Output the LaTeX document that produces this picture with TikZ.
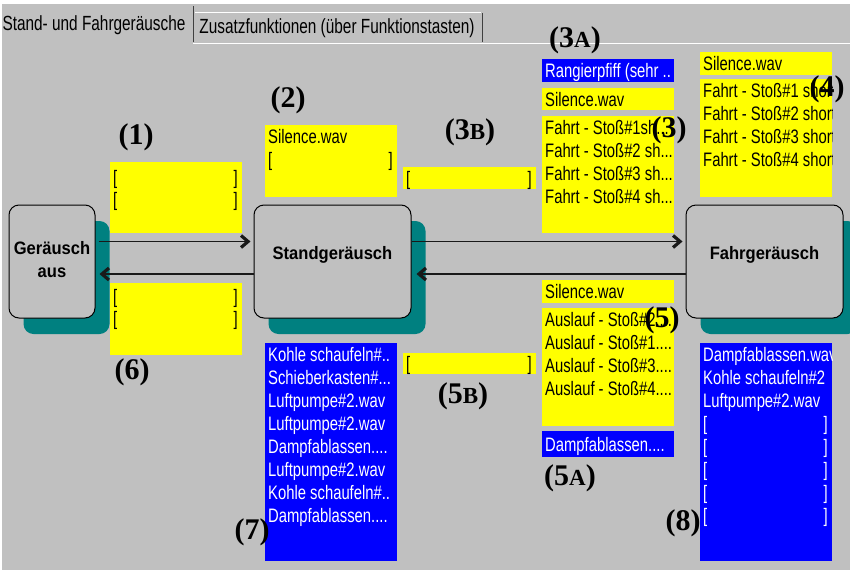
\documentclass[tikz,border=0pt]{standalone}
\usepackage{fontspec}
\newfontfamily\listfont{Liberation Sans}[FakeStretch=0.76]
\newfontfamily\tabfont{Liberation Sans}[FakeStretch=0.75]
\newfontfamily\btnfont{Liberation Sans}[FakeStretch=0.92]
\newfontfamily\numfont{Liberation Serif}
\usetikzlibrary{arrows.meta}
\definecolor{panelgray}{HTML}{C0C0C0}
\definecolor{shadowteal}{HTML}{008080}
\definecolor{listyellow}{HTML}{FFFF00}
\definecolor{listblue}{HTML}{0000FF}
\definecolor{edgedark}{HTML}{404040}
\newcommand\smallcap[1]{{\fontsize{23}{23}\selectfont #1}}

\tikzset{
  stateBox/.style={draw=black, line width=1pt, fill=panelgray, rounded corners=10pt,
    minimum height=113pt, inner sep=0pt},
  stateShadow/.style={fill=shadowteal, rounded corners=10pt, minimum height=113pt, inner sep=0pt},
  stateText/.style={font=\btnfont\bfseries\fontsize{18}{23}\selectfont, align=center, inner sep=0pt},
  ylist/.style={fill=listyellow, inner sep=0pt, anchor=north west},
  blist/.style={fill=listblue, inner sep=0pt, anchor=north west},
  row/.style={anchor=west, inner sep=0pt, text height=14pt, text depth=0pt,
    font=\listfont\fontsize{19.5}{22}\selectfont},
  rowR/.style={row, anchor=east},
  brow/.style={row, text=white},
  browR/.style={rowR, text=white},
  tabText/.style={inner sep=0pt, font=\tabfont\fontsize{20.5}{22}\selectfont},
  callout/.style={font=\numfont\bfseries\fontsize{30}{30}\selectfont, inner sep=0pt},
  flow/.style={line width=1.4pt, draw=black!90,
    -{Straight Barb[length=7pt,width=12pt,line width=3.2pt 0]}},
}

\begin{document}
\begin{tikzpicture}[x=1pt,y=-1pt]
  % panel background
  \fill[panelgray] (0,0) rectangle (850,570);
  \useasboundingbox (0,0) rectangle (850,570);

  % tab strip
  \fill[white] (0,0) rectangle (850,4);
  \draw[white, line width=1.5pt] (1,4) -- (1,570);
  \draw[white, line width=1.5pt] (193,43.5) -- (850,43.5);
  \draw[white, line width=1.5pt] (195,12.5) -- (481,12.5);
  \draw[edgedark, line width=1.5pt] (193.5,6) -- (193.5,42);
  \draw[edgedark, line width=1.5pt] (482.5,13) -- (482.5,42);
  \node[tabText] (tab1) at (94,25) {Stand- und Fahrgeräusche};
  \node[tabText] (tab2) at (337,28) {Zusatzfunktionen (über Funktionstasten)};

  % state buttons with their shadows
  \node[stateShadow, minimum width=86pt]  (ausShadow)   at (66.5,277.5) {};
  \node[stateShadow, minimum width=157pt] (standShadow) at (347,277.5) {};
  \node[stateShadow, minimum width=157pt] (fahrShadow)  at (779,277.5) {};
  \node[stateBox, minimum width=86pt]  (aus)   at (52,261.5) {};
  \node[stateBox, minimum width=157pt] (stand) at (332.5,261.5) {};
  \node[stateBox, minimum width=157pt] (fahr)  at (764.5,261.5) {};
  \node[stateText] (ausText)   at (52,260)    {Geräusch\\aus};
  \node[stateText] (standText) at (332.5,255) {Standgeräusch};
  \node[stateText] (fahrText)  at (764.5,255) {Fahrgeräusch};

  % transitions
  \draw[flow, shorten <=3pt, shorten >=3pt] ([yshift=20pt]aus.east) -- ([yshift=20pt]stand.west);
  \draw[flow, shorten >=4pt] ([yshift=-12.5pt]stand.west) -- ([yshift=-12.5pt]aus.east);
  \draw[flow, shorten >=3pt] ([yshift=20pt]stand.east) -- ([yshift=20pt]fahr.west);
  \draw[flow, shorten >=5pt] ([yshift=-12.5pt]fahr.west) -- ([yshift=-12.5pt]stand.east);

  % (1) start sounds
  \node[ylist, minimum width=132pt, minimum height=71pt] (l1) at (110,162) {};
  \node[row]  (l1a) at (113,177) {[};  \node[rowR] (l1b) at (238,177) {]};
  \node[row]  (l1c) at (113,199) {[};  \node[rowR] (l1d) at (238,199) {]};

  % (6) stop sounds
  \node[ylist, minimum width=132pt, minimum height=72pt] (l6) at (110,283) {};
  \node[row]  (l6a) at (113,296) {[};  \node[rowR] (l6b) at (238,296) {]};
  \node[row]  (l6c) at (113,318) {[};  \node[rowR] (l6d) at (238,318) {]};

  % (2) idle sound
  \node[ylist, minimum width=132pt, minimum height=72pt] (l2) at (265,125) {};
  \node[row]  (l2a) at (268,136) {Silence.wav};
  \node[row]  (l2b) at (268,159) {[};  \node[rowR] (l2c) at (393,159) {]};

  % (3B) and (5B)
  \node[ylist, minimum width=133pt, minimum height=22pt] (l3b) at (403,167) {};
  \node[row]  (l3ba) at (406,178) {[};  \node[rowR] (l3bb) at (532,178) {]};
  \node[ylist, minimum width=133pt, minimum height=21pt] (l5b) at (403,353) {};
  \node[row]  (l5ba) at (406,363.5) {[};  \node[rowR] (l5bb) at (532,363.5) {]};

  % (3A) and (3) start of driving
  \node[blist, minimum width=132pt, minimum height=23pt] (l3a) at (542,59) {};
  \node[brow] (l3aa) at (545,70.5) {Rangierpfiff (sehr ..};
  \node[ylist, minimum width=132pt, minimum height=22pt] (l3s) at (542,88) {};
  \node[row]  (l3sa) at (545,99) {Silence.wav};
  \node[ylist, minimum width=132pt, minimum height=117pt] (l3) at (542,116) {};
  \node[row] (l3r1) at (545,127) {Fahrt - Stoß\#1sh...};
  \node[row] (l3r2) at (545,150) {Fahrt - Stoß\#2 sh...};
  \node[row] (l3r3) at (545,173) {Fahrt - Stoß\#3 sh...};
  \node[row] (l3r4) at (545,196) {Fahrt - Stoß\#4 sh...};

  % (4) driving
  \node[ylist, minimum width=132pt, minimum height=23pt] (l4s) at (700,52) {};
  \node[row]  (l4sa) at (703,63.5) {Silence.wav};
  \node[ylist, minimum width=132pt, minimum height=118pt] (l4) at (700,79) {};
  \begin{scope}
    \clip (l4.north west) rectangle (l4.south east);
    \node[row] (l4r1) at (703,90)  {Fahrt - Stoß\#1 short};
    \node[row] (l4r2) at (703,113) {Fahrt - Stoß\#2 short};
    \node[row] (l4r3) at (703,136) {Fahrt - Stoß\#3 short};
    \node[row] (l4r4) at (703,159) {Fahrt - Stoß\#4 short};
  \end{scope}

  % (5) and (5A) coasting
  \node[ylist, minimum width=132pt, minimum height=23pt] (l5s) at (542,280) {};
  \node[row]  (l5sa) at (545,291.5) {Silence.wav};
  \node[ylist, minimum width=132pt, minimum height=118pt] (l5) at (542,308) {};
  \node[row] (l5r1) at (545,319) {Auslauf - Stoß\#2....};
  \node[row] (l5r2) at (545,342) {Auslauf - Stoß\#1....};
  \node[row] (l5r3) at (545,365) {Auslauf - Stoß\#3....};
  \node[row] (l5r4) at (545,388) {Auslauf - Stoß\#4....};
  \node[blist, minimum width=132pt, minimum height=26pt] (l5a) at (542,431) {};
  \node[brow] (l5aa) at (545,444) {Dampfablassen....};

  % (7) idle extras
  \node[blist, minimum width=132pt, minimum height=218pt] (l7) at (265,343) {};
  \begin{scope}
    \clip (l7.north west) rectangle (l7.south east);
    \node[brow] (l7r0) at (268,354) {Kohle schaufeln\#..};
    \node[brow] (l7r1) at (268,377) {Schieberkasten\#...};
    \node[brow] (l7r2) at (268,400) {Luftpumpe\#2.wav};
    \node[brow] (l7r3) at (268,423) {Luftpumpe\#2.wav};
    \node[brow] (l7r4) at (268,446) {Dampfablassen....};
    \node[brow] (l7r5) at (268,469) {Luftpumpe\#2.wav};
    \node[brow] (l7r6) at (268,492) {Kohle schaufeln\#..};
    \node[brow] (l7r7) at (268,515) {Dampfablassen....};
  \end{scope}

  % (8) driving extras
  \node[blist, minimum width=132pt, minimum height=218pt] (l8) at (700,343) {};
  \begin{scope}
    \clip (l8.north west) rectangle (l8.south east);
    \node[brow] (l8r0) at (703,354) {Dampfablassen.wav};
    \node[brow] (l8r1) at (703,377) {Kohle schaufeln\#2};
    \node[brow] (l8r2) at (703,400) {Luftpumpe\#2.wav};
    \foreach \i in {3,4,5,6,7} {
      \node[brow]  (l8l\i) at (703,354+23*\i) {[};
      \node[browR] (l8e\i) at (828,354+23*\i) {]};
    }
  \end{scope}

  % numbered callouts
  \node[callout] (c1)  at (136,137) {(1)};
  \node[callout] (c2)  at (288,100) {(2)};
  \node[callout] (c3b) at (470,132) {(3\smallcap{B})};
  \node[callout] (c3a) at (575,40)  {(3\smallcap{A})};
  \node[callout] (c3)  at (669,130) {(3)};
  \node[callout] (c4)  at (827,89)  {(4)};
  \node[callout] (c5)  at (662,320) {(5)};
  \node[callout] (c5a) at (570,478) {(5\smallcap{A})};
  \node[callout] (c5b) at (463,396) {(5\smallcap{B})};
  \node[callout] (c6)  at (132,372) {(6)};
  \node[callout] (c7)  at (252,532) {(7)};
  \node[callout] (c8)  at (683,523) {(8)};
\end{tikzpicture}
\end{document}
